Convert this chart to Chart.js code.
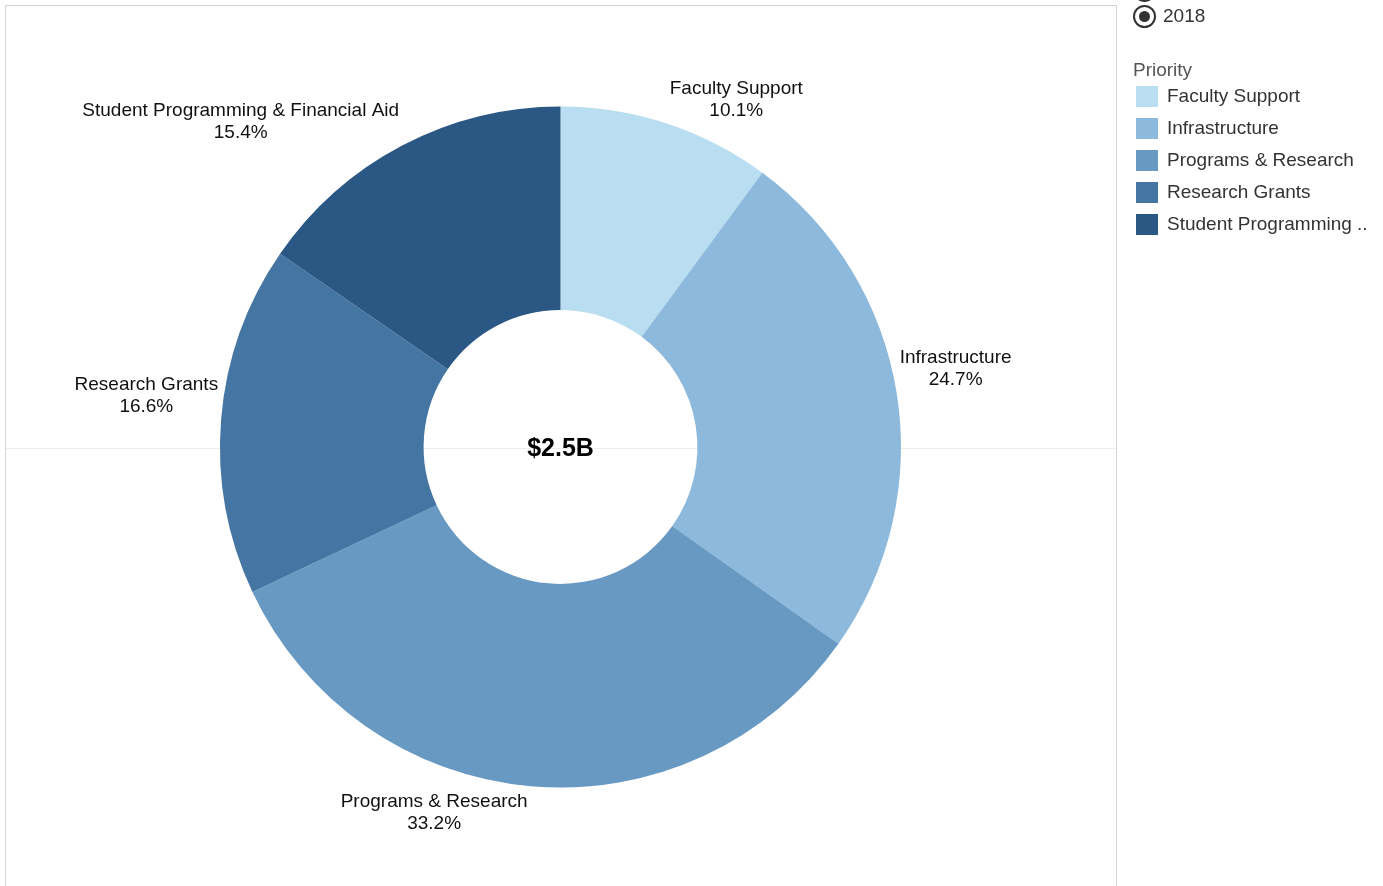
<!DOCTYPE html>
<html>
<head>
<meta charset="utf-8">
<title>Priority 2018</title>
<script src="https://cdn.jsdelivr.net/npm/chart.js@4/dist/chart.umd.min.js"></script>
<style>
  body { margin: 0; background: #fff; font-family: Arial, "Liberation Sans", sans-serif; }
  #page { position: relative; width: 1383px; height: 886px; overflow: hidden; }
  #frame { position: absolute; left: 5px; top: 5px; width: 1110px; height: 900px;
           border: 1px solid #d4d4d4; border-bottom: none; }
  #midline { position: absolute; left: 6px; top: 448px; width: 1110px; height: 1px; background: #ededed; }
  #chart-wrap { position: absolute; left: 0; top: 0; width: 1383px; height: 886px; }
  .radio { position: absolute; left: 1133px; width: 19px; height: 19px; border: 2px solid #333;
           border-radius: 50%; box-sizing: content-box; }
  .radio.on::after { content: ""; position: absolute; left: 4px; top: 4px; width: 11px; height: 11px;
                     border-radius: 50%; background: #333; }
  .txt { position: absolute; font-size: 19px; line-height: 22px; color: #333; white-space: nowrap; }
  .swatch { position: absolute; left: 1136px; width: 22px; height: 21px; }
</style>
</head>
<body>
<div id="page">
  <div id="frame"></div>
  <div id="midline"></div>
  <div id="chart-wrap"><canvas id="donut"></canvas></div>
  <div id="legend"></div>
</div>
<script>
const categories = ['Faculty Support', 'Infrastructure', 'Programs & Research', 'Research Grants', 'Student Programming & Financial Aid'];
const shares = [10.1, 24.7, 33.2, 16.6, 15.4];
const colors = ['#b9ddf1', '#8cb9dc', '#6899c3', '#4575a3', '#2a5783'];
const centerLabel = '$2.5B';
const years = ['2018'];
const legendTitle = 'Priority';

const labelFont = '19px Arial, "Liberation Sans", sans-serif';

// slice labels outside the ring, box corner touching the slice mid point
const sliceLabels = {
  id: 'sliceLabels',
  afterDatasetsDraw(chart) {
    const ctx = chart.ctx;
    const arcs = chart.getDatasetMeta(0).data;
    const gap = 3;
    const lineH = 22;
    ctx.save();
    ctx.font = labelFont;
    ctx.fillStyle = '#111';
    ctx.textAlign = 'center';
    ctx.textBaseline = 'middle';
    arcs.forEach((arc, i) => {
      const p = arc.getProps(['x', 'y', 'startAngle', 'endAngle', 'outerRadius'], true);
      const mid = (p.startAngle + p.endAngle) / 2;
      const ax = p.x + Math.cos(mid) * p.outerRadius;
      const ay = p.y + Math.sin(mid) * p.outerRadius;
      const lines = [categories[i], shares[i].toFixed(1) + '%'];
      const w = Math.max(...lines.map(l => ctx.measureText(l).width));
      const h = lines.length * lineH;
      const left = Math.cos(mid) >= 0 ? ax + gap : ax - gap - w;
      const top = Math.sin(mid) < 0 ? ay - gap - h : ay + gap;
      lines.forEach((l, k) => ctx.fillText(l, left + w / 2, top + lineH * k + lineH / 2 + 1.5));
    });
    // total in the hole
    const a0 = arcs[0];
    ctx.font = 'bold 25px Arial, "Liberation Sans", sans-serif';
    ctx.fillStyle = '#000';
    ctx.fillText(centerLabel, a0.x, a0.y + 2);
    ctx.restore();
  }
};

const donutChart = new Chart(document.getElementById('donut'), {
  type: 'doughnut',
  data: {
    labels: categories,
    datasets: [{
      data: shares,
      backgroundColor: colors,
      borderWidth: 0,
      hoverOffset: 0
    }]
  },
  options: {
    responsive: true,
    maintainAspectRatio: false,
    animation: false,
    cutout: '40.2%',
    layout: { padding: { left: 220, right: 482, top: 106, bottom: 98 } },
    plugins: {
      legend: { display: false },
      tooltip: { enabled: false }
    }
  },
  plugins: [sliceLabels]
});

// legend on the right
function truncate(text, maxW) {
  const c = document.createElement('canvas').getContext('2d');
  c.font = labelFont;
  if (c.measureText(text).width <= maxW) return text;
  let s = text;
  while (s.length && c.measureText(s + '..').width > maxW) s = s.slice(0, -1);
  return s + '..';
}

function buildLegend() {
  const box = document.getElementById('legend');
  let html = '';
  // the previous radio row is scrolled off the top
  html += `<div class="radio" style="top:-21px"></div>`;
  years.forEach((y, i) => {
    html += `<div class="radio on" style="top:${5 + i * 26}px"></div>`;
    html += `<div class="txt" style="left:1163px;top:${5 + i * 26}px">${y}</div>`;
  });
  html += `<div class="txt" style="left:1133px;top:59px;color:#555">${legendTitle}</div>`;
  categories.forEach((c, i) => {
    html += `<div class="swatch" style="top:${86 + i * 32}px;background:${colors[i]}"></div>`;
    html += `<div class="txt" style="left:1167px;top:${85 + i * 32}px">${truncate(c, 204).replace(/&/g, '&amp;')}</div>`;
  });
  box.innerHTML = html;
}
buildLegend();
</script>
</body>
</html>
